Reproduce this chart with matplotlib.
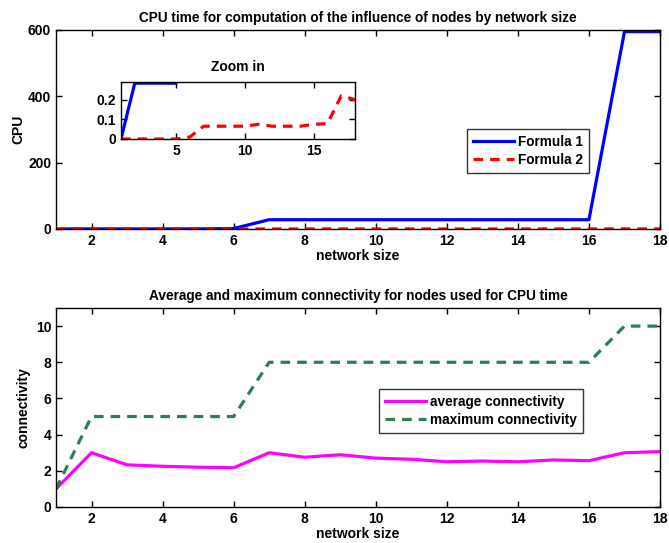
import matplotlib
matplotlib.use('Agg')
import matplotlib.pyplot as plt

plt.rcParams['font.family'] = ['Liberation Sans', 'DejaVu Sans']
plt.rcParams['font.weight'] = 'bold'
plt.rcParams['font.size'] = 10

# data
sizes = list(range(1, 19))
formula1 = [0, 0.284, 0.284, 0.284, 0.284, 1.5, 28, 28, 28, 28, 28, 28, 28, 28, 28, 28, 595, 595]
formula2 = [0, 0, 0, 0, 0, 0.01, 0.065, 0.065, 0.065, 0.065, 0.075, 0.065, 0.065, 0.065, 0.075, 0.078, 0.22, 0.2]
avg_conn = [1, 3, 2.33, 2.25, 2.2, 2.17, 3, 2.75, 2.89, 2.7, 2.64, 2.5, 2.54, 2.5, 2.6, 2.56, 3.0, 3.06]
max_conn = [1, 5, 5, 5, 5, 5, 8, 8, 8, 8, 8, 8, 8, 8, 8, 8, 10, 10]

W, H = 669, 543

def box(l, t, r, b):
    return [l / W, 1 - b / H, (r - l) / W, (b - t) / H]

def style(ax):
    ax.tick_params(direction='in', top=True, right=True, length=4, width=1)
    for s in ax.spines.values():
        s.set_linewidth(1)
    for lab in ax.get_xticklabels() + ax.get_yticklabels():
        lab.set_fontweight('bold')

def legend(ax, x, y):
    leg = ax.legend(loc='upper left', bbox_to_anchor=(x, y), frameon=True,
                    fancybox=False, edgecolor='black', handlelength=3.0,
                    handletextpad=0.3, borderpad=0.45, labelspacing=0.3,
                    borderaxespad=0, prop={'weight': 'bold', 'size': 9.8})
    leg.get_frame().set_linewidth(1)
    return leg

fig = plt.figure(figsize=(W / 100, H / 100), dpi=100)

# top plot
ax1 = fig.add_axes(box(56, 30, 660, 229))
ax1.plot(sizes, formula1, color='#0000ff', lw=2.3, label='Formula 1')
ax1.plot(sizes, formula2, color='#ff0000', lw=2.3, ls=(0, (3, 2.2)), label='Formula 2')
ax1.set_xlim(1, 18)
ax1.set_ylim(0, 600)
ax1.set_xticks([2, 4, 6, 8, 10, 12, 14, 16, 18])
ax1.set_yticks([0, 200, 400, 600])
ax1.set_title('CPU time for computation of the influence of nodes by network size',
              fontsize=9.8, fontweight='bold', pad=6)
ax1.set_xlabel('network size', fontweight='bold', labelpad=1)
ax1.set_ylabel('CPU', fontweight='bold', labelpad=2)
style(ax1)
legend(ax1, (467 - 56) / 604, 1 - (129 - 30) / 199)

# inset
axi = fig.add_axes(box(121, 82, 355, 139))
axi.plot(sizes, formula1, color='#0000ff', lw=2.3)
axi.plot(sizes, formula2, color='#ff0000', lw=2.3, ls=(0, (3, 2.2)))
axi.set_xlim(1, 18)
axi.set_ylim(0, 0.29)
axi.set_xticks([5, 10, 15])
axi.set_yticks([0, 0.1, 0.2])
axi.set_yticklabels(['0', '0.1', '0.2'])
axi.set_title('Zoom in', fontsize=10, fontweight='bold', pad=8)
style(axi)

# bottom plot
ax2 = fig.add_axes(box(56, 308, 660, 507))
ax2.plot(sizes, avg_conn, color='#ff00ff', lw=2.3, label='average connectivity')
ax2.plot(sizes, max_conn, color='#2e7d4f', lw=2.3, ls=(0, (3, 2.2)), label='maximum connectivity')
ax2.set_xlim(1, 18)
ax2.set_ylim(0, 11)
ax2.set_xticks([2, 4, 6, 8, 10, 12, 14, 16, 18])
ax2.set_yticks([0, 2, 4, 6, 8, 10])
ax2.set_title('Average and maximum connectivity for nodes used for CPU time',
              fontsize=9.8, fontweight='bold', pad=6)
ax2.set_xlabel('network size', fontweight='bold', labelpad=1)
ax2.set_ylabel('connectivity', fontweight='bold', labelpad=4)
style(ax2)
legend(ax2, (379 - 56) / 604, 1 - (389 - 308) / 199)

fig.savefig('out.png', dpi=100)
